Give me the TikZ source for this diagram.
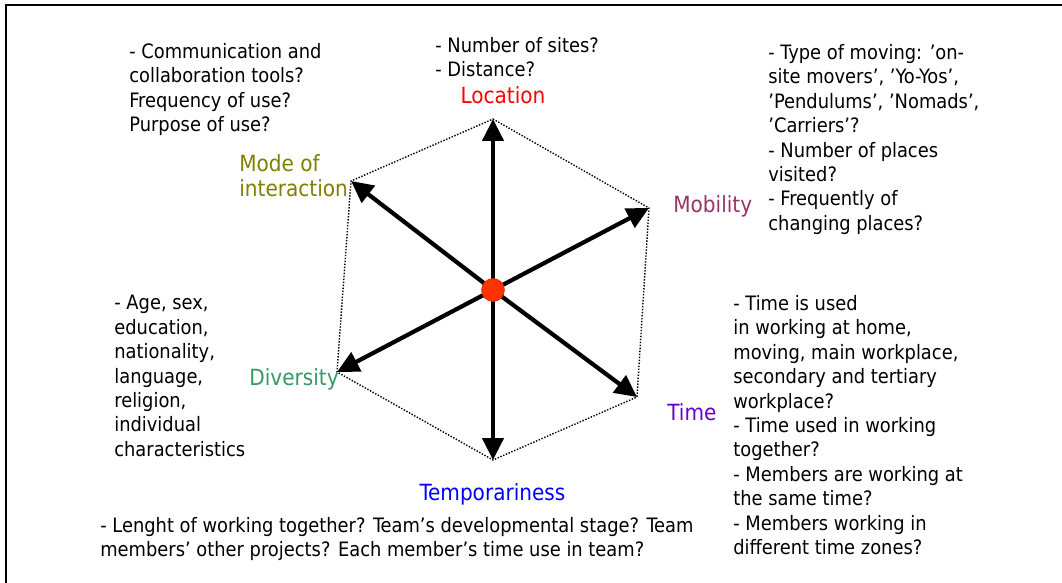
\documentclass[tikz,border=0pt]{standalone}
\usepackage{fontspec}
\setmainfont{DejaVu Sans Condensed}
\definecolor{locred}{RGB}{255, 0, 0}
\definecolor{modeolive}{RGB}{128, 128, 0}
\definecolor{mobplum}{RGB}{153, 51, 102}
\definecolor{divgreen}{RGB}{51, 153, 102}
\definecolor{timepurple}{RGB}{102, 0, 204}
\definecolor{tempblue}{RGB}{0, 0, 255}
\definecolor{hubred}{RGB}{255, 51, 0}
\usetikzlibrary{arrows.meta}
\tikzset{
	notes/.style={anchor=north west, inner sep=0pt, align=left, font=\fontsize{11.3}{13.9}\selectfont},
	dimlabel/.style={inner sep=0pt, text depth=0pt, align=left, font=\fontsize{12.7}{14}\selectfont},
	spoke/.style={-{Triangle[length=12.5pt, width=12pt]}, line width=2.4pt},
	hexline/.style={line width=0.8pt, dash pattern=on 0.8pt off 0.9pt},
	hubdot/.style={circle, fill=hubred, draw=hubred!85!black, line width=0.4pt, minimum size=13pt, inner sep=0pt},
	frame/.style={line width=1.15pt},
}

\begin{document}
\begin{tikzpicture}[x=0.02cm, y=-0.02cm]
	\useasboundingbox (0,0) rectangle (1062,582);
	% open frame, only left and top edges show
	\draw[frame] (6,590) -- (6,5) -- (1070,5);

	% hexagon corners and centre
	\coordinate (hub) at (493,290);
	\coordinate (loc) at (493,119);
	\coordinate (mob) at (649,208);
	\coordinate (tim) at (637,397);
	\coordinate (tmp) at (493,460);
	\coordinate (div) at (337,372);
	\coordinate (mode) at (351,181);

	\draw[hexline] (loc) -- (mob) -- (tim) -- (tmp) -- (div) -- (mode) -- cycle;
	\foreach \corner in {loc, mob, tim, tmp, div, mode}
		\draw[spoke] (hub) -- (\corner);
	\node[hubdot] (dot) at (hub) {};

	% dimension names
	\node[dimlabel, text=locred] (loclabel) at (503,95) {Location};
	\node[dimlabel, text=modeolive, anchor=west] (modelabel) at (239,175.5) {Mode of\\interaction};
	\node[dimlabel, text=mobplum, anchor=west] (moblabel) at (673,204) {Mobility};
	\node[dimlabel, text=divgreen, anchor=west] (divlabel) at (249,377) {Diversity};
	\node[dimlabel, text=timepurple, anchor=west] (timelabel) at (667,412) {Time};
	\node[dimlabel, text=tempblue] (tmplabel) at (492.5,492) {Temporariness};

	% questions for each dimension
	\node[notes] (sitestext) at (435,37) {- Number of sites?\\- Distance?};
	\node[notes] (commtext) at (129,43) {- Communication and\\collaboration tools?\\Frequency of use?\\Purpose of use?};
	\node[notes] (movetext) at (768,44) {- Type of moving: 'on-\\site movers', 'Yo-Yos',\\'Pendulums', 'Nomads',\\'Carriers'?\\- Number of places\\visited?\\- Frequently of\\changing places?};
	\node[notes] (divtext) at (114,295) {- Age, sex,\\education,\\nationality,\\language,\\religion,\\individual\\characteristics};
	\node[notes] (timetext) at (733,295) {- Time is used\\in working at home,\\moving, main workplace,\\secondary and tertiary\\workplace?\\- Time used in working\\together?\\- Members are working at\\the same time?\\- Members working in\\different time zones?};
	\node[notes] (tempotext) at (100,517) {- Lenght of working together? Team's developmental stage? Team\\members' other projects? Each member's time use in team?};
\end{tikzpicture}
\end{document}
